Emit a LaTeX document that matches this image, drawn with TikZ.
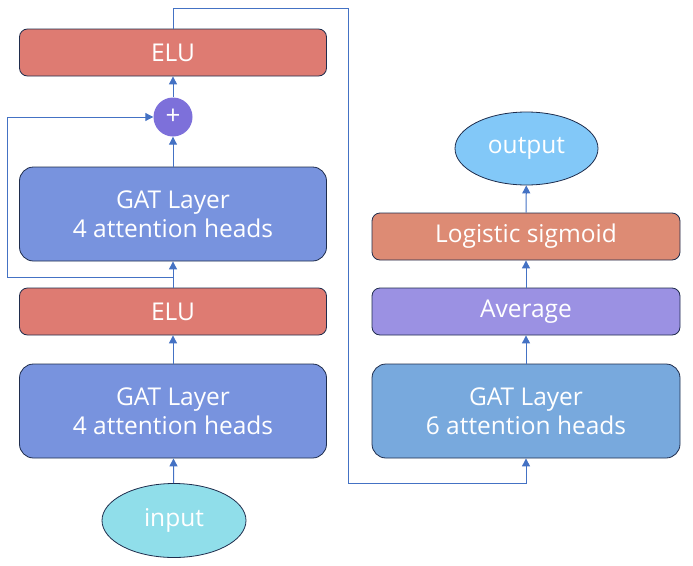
\documentclass[tikz,border=0pt]{standalone}
\usepackage{fontspec}
\setmainfont{Open Sans}
\usepackage{tikz}
\usetikzlibrary{arrows.meta, shapes.geometric, positioning}

\definecolor{eluRed}{RGB}{222,123,114}
\definecolor{sigOrange}{RGB}{221,139,116}
\definecolor{avgPurple}{RGB}{155,145,227}
\definecolor{gatBlue}{RGB}{120,147,222}
\definecolor{gatSky}{RGB}{120,169,221}
\definecolor{outCyan}{RGB}{130,200,248}
\definecolor{inCyan}{RGB}{144,222,234}
\definecolor{plusViolet}{RGB}{125,112,218}
\definecolor{edgeNavy}{RGB}{31,45,77}
\definecolor{linkBlue}{RGB}{68,114,196}

\begin{document}
\begin{tikzpicture}[x=1pt, y=-1pt,
    every node/.style={text=white, font=\fontsize{24.5}{29.5}\selectfont, align=center, inner sep=0pt},
    thinbox/.style={draw=edgeNavy, line width=0.8pt, rounded corners=8pt,
      minimum width=307pt, minimum height=47pt},
    bigbox/.style={draw=edgeNavy, line width=0.8pt, rounded corners=14pt,
      minimum width=307pt, minimum height=94pt},
    blob/.style={ellipse, draw=edgeNavy, line width=0.8pt,
      minimum width=144pt, minimum height=74pt},
    link/.style={draw=linkBlue, line width=1pt, -{Triangle[length=8pt, width=8pt]}}]
  \useasboundingbox (0,0) rectangle (693,565);

  % left column
  \node[thinbox, fill=eluRed] (eluTop) at (173,52.5) {ELU};
  \node[circle, fill=plusViolet, minimum size=39pt, font=\fontsize{26}{26}\selectfont] (plus) at (173,117) {+};
  \node[bigbox, fill=gatBlue] (gatTop) at (173,214) {GAT Layer\\4 attention heads};
  \node[thinbox, fill=eluRed] (eluBot) at (173,311.5) {ELU};
  \node[bigbox, fill=gatBlue] (gatBot) at (173,411) {GAT Layer\\4 attention heads};
  \node[blob, fill=inCyan] (input) at (174,520.5) {input};

  % right column
  \node[bigbox, fill=gatSky, minimum width=308pt] (gatSix) at (526,411) {GAT Layer\\6 attention heads};
  \node[thinbox, fill=avgPurple, minimum width=308pt] (avg) at (526,311.5) {Average};
  \node[thinbox, fill=sigOrange, minimum width=308pt] (sig) at (526,236.5) {Logistic sigmoid};
  \node[blob, fill=outCyan, minimum width=143pt, minimum height=73pt] (output) at (526.5,148.5) {output};

  \coordinate (skipFrom) at (173,277);
  \coordinate (skipLeft) at (7.5,277);
  \coordinate (jumpTop) at (348,8);
  \coordinate (jumpBot) at (348,483);

  \draw[link] (input) -- (gatBot);
  \draw[link] (gatBot) -- (eluBot);
  \draw[link] (eluBot) -- (gatTop);
  \draw[link] (gatTop) -- (plus);
  \draw[link] (plus) -- (eluTop);
  \draw[link] (skipFrom) -- (skipLeft) |- (plus.west);
  \draw[link] (eluTop.north) |- (jumpTop) -- (jumpBot) -| (gatSix.south);
  \draw[link] (gatSix) -- (avg);
  \draw[link] (avg) -- (sig);
  \draw[link] (sig) -- (output);
\end{tikzpicture}
\end{document}
